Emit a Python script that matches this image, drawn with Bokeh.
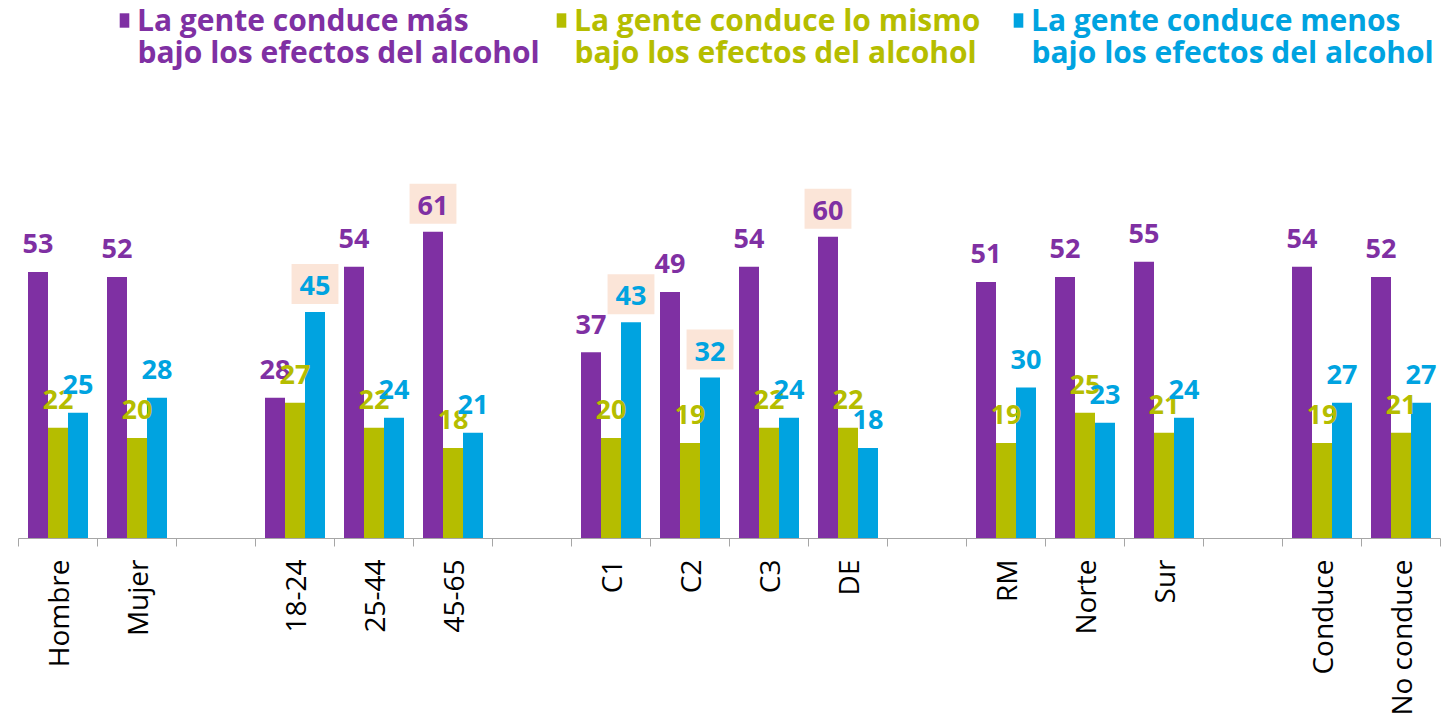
import math
from bokeh.plotting import figure
from bokeh.models import (Range1d, FixedTicker, ColumnDataSource, Legend,
                          LegendItem, Label)
from bokeh.core.properties import value
from bokeh.embed import file_html
from bokeh.resources import INLINE

# ---- data ----
groups = [["Hombre", "Mujer"],
          ["18-24", "25-44", "45-65"],
          ["C1", "C2", "C3", "DE"],
          ["RM", "Norte", "Sur"],
          ["Conduce", "No conduce"]]
categories = [c for g in groups for c in g]
mas = [53, 52, 28, 54, 61, 37, 49, 54, 60, 51, 52, 55, 54, 52]
mismo = [22, 20, 27, 22, 18, 20, 19, 22, 22, 19, 25, 21, 19, 21]
menos = [25, 28, 45, 24, 21, 43, 32, 24, 18, 30, 23, 24, 27, 27]
series_names = ["La gente conduce más\nbajo los efectos del alcohol",
                "La gente conduce lo mismo\nbajo los efectos del alcohol",
                "La gente conduce menos\nbajo los efectos del alcohol"]
colors = ["#7F30A3", "#B5BD00", "#00A3E0"]
highlights = [["45-65", "DE"], [], ["18-24", "C1", "C2"]]
series_values = [mas, mismo, menos]

# ---- slot layout (one empty slot between groups) ----
slots = []
pos = 0
for g in groups:
    for c in g:
        slots.append(pos)
        pos += 1
    pos += 1
n_slots = pos - 1
boundaries = [i - 0.5 for i in range(n_slots + 1)]

FONT = "Open Sans"
px_per_unit = 5.04
frame_h = 539

p = figure(width=1448, height=718,
           x_range=Range1d(-0.5, n_slots - 0.5),
           y_range=Range1d(0, frame_h / px_per_unit),
           output_backend="svg", toolbar_location=None,
           y_axis_location=None,
           min_border_left=18, min_border_right=8,
           min_border_top=0, min_border_bottom=718 - frame_h)
p.xgrid.visible = False
p.ygrid.visible = False
p.outline_line_color = None
p.background_fill_color = "white"

ax = p.xaxis[0]
ax.ticker = FixedTicker(ticks=slots, minor_ticks=boundaries)
ax.major_label_overrides = {s: c for s, c in zip(slots, categories)}
ax.major_label_orientation = math.pi / 2
ax.major_tick_out = 0
ax.major_tick_in = 0
ax.minor_tick_out = 8
ax.minor_tick_in = 0
ax.axis_line_color = "#A6A6A6"
ax.minor_tick_line_color = "#A6A6A6"
ax.major_label_standoff = 13
ax.major_label_text_font = FONT
ax.major_label_text_font_size = "28px"
ax.major_label_text_color = "black"

bw = 20 / 79
renderers = []
for k, (vals, col) in enumerate(zip(series_values, colors)):
    xs = [s + (k - 1) * bw for s in slots]
    src = ColumnDataSource(dict(x=xs, top=vals, cat=categories))
    r = p.vbar(x="x", top="top", width=bw, bottom=0, source=src,
               fill_color=col, line_color=col, line_width=0)
    renderers.append(r)

for k, (vals, col) in enumerate(zip(series_values, colors)):
    xs = [s + (k - 1) * bw for s in slots]
    normal = [i for i, c in enumerate(categories) if c not in highlights[k]]
    hi = [i for i, c in enumerate(categories) if c in highlights[k]]
    for idx, bg in ((normal, None), (hi, "#FBE5D8")):
        if not idx:
            continue
        src = ColumnDataSource(dict(x=[xs[i] for i in idx],
                                    y=[vals[i] for i in idx],
                                    t=[str(vals[i]) for i in idx]))
        kw = {}
        if bg:
            kw = dict(background_fill_color=bg,
                      padding=dict(left=8, right=8, top=12, bottom=9))
        p.text(x="x", y="y", text="t", source=src,
               text_align="center", text_baseline="alphabetic",
               y_offset=-28, text_color=col,
               text_font=value(FONT), text_font_style="bold",
               text_font_size="27px", **kw)

leg_x = [100, 537, 994]
for name, r, col, lx in zip(series_names, renderers, colors, leg_x):
    first, second = name.split("\n")
    leg = Legend(items=[LegendItem(label=first, renderers=[r])],
                 location=(lx, 498), orientation="vertical",
                 label_text_font=FONT, label_text_font_style="bold",
                 label_text_font_size="30px", label_text_color=col,
                 glyph_width=12, glyph_height=18, label_standoff=7,
                 padding=0, margin=0, border_line_color=None,
                 background_fill_alpha=0)
    p.add_layout(leg)
    p.add_layout(Label(x=lx + 19, y=frame_h - 52, x_units="screen",
                       y_units="screen", text=second,
                       text_font=FONT, text_font_style="bold",
                       text_font_size="30px", text_color=col,
                       text_baseline="alphabetic", text_align="left"))

open("out.html", "w").write(file_html(p, INLINE))
